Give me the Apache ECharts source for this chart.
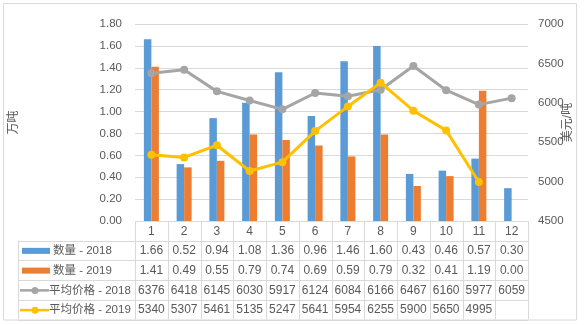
<!DOCTYPE html>
<html>
<head>
<meta charset="utf-8">
<script src="https://cdn.jsdelivr.net/npm/echarts@6/dist/echarts.min.js"></script>
<style>
  html, body { margin: 0; padding: 0; background: #fff; }
  #chart { width: 584px; height: 325px; }
</style>
</head>
<body>
<div id="chart"></div>
<script>
// Monthly import volume (万吨) and average price (美元/吨), 2018 vs 2019
var months = ['1', '2', '3', '4', '5', '6', '7', '8', '9', '10', '11', '12'];
var qty2018 = [1.66, 0.52, 0.94, 1.08, 1.36, 0.96, 1.46, 1.60, 0.43, 0.46, 0.57, 0.30];
var qty2019 = [1.41, 0.49, 0.55, 0.79, 0.74, 0.69, 0.59, 0.79, 0.32, 0.41, 1.19, 0.00];
var price2018 = [6376, 6418, 6145, 6030, 5917, 6124, 6084, 6166, 6467, 6160, 5977, 6059];
var price2019 = [5340, 5307, 5461, 5135, 5247, 5641, 5954, 6255, 5900, 5650, 4995, null];

var seriesNames = ['数量 - 2018', '数量 - 2019', '平均价格 - 2018', '平均价格 - 2019'];
var colors = ['#5B9BD5', '#ED7D31', '#A5A5A5', '#FFC000'];

var FONT = "'Liberation Sans','Noto Sans CJK SC',sans-serif";
var TXT = '#595959';
var GRID = '#D9D9D9';

var chart = echarts.init(document.getElementById('chart'), null, { renderer: 'canvas' });

var gridBox = { left: 135, right: 56, top: 24, bottom: 104, containLabel: false, outerBoundsMode: 'none' };

chart.setOption({
  animation: false,
  backgroundColor: '#fff',
  textStyle: { fontFamily: FONT },
  grid: gridBox,
  xAxis: {
    type: 'category',
    data: months,
    axisLine: { show: false },
    axisTick: { show: false },
    axisLabel: { show: false }
  },
  yAxis: [{
    type: 'value',
    min: 0, max: 1.8, interval: 0.2,
    name: '万吨',
    nameLocation: 'middle',
    nameGap: 115,
    nameRotate: 90,
    nameMoveOverlap: false,
    nameTextStyle: { color: TXT, fontSize: 12, fontFamily: FONT },
    axisLine: { show: false },
    axisTick: { show: false },
    axisLabel: { color: TXT, fontSize: 11.5, margin: 13, formatter: function (v) { return v.toFixed(2); } },
    splitLine: { lineStyle: { color: GRID, width: 1 } }
  }, {
    type: 'value',
    min: 4500, max: 7000, interval: 500,
    position: 'right',
    name: '美元/吨',
    nameLocation: 'middle',
    nameGap: 34,
    nameRotate: 90,
    nameMoveOverlap: false,
    nameTextStyle: { color: TXT, fontSize: 12, fontFamily: FONT },
    axisLine: { show: false },
    axisTick: { show: false },
    axisLabel: { color: TXT, fontSize: 11.5, margin: 10, formatter: function (v) { return String(v); } },
    splitLine: { show: false }
  }],
  series: [{
    name: seriesNames[0], type: 'bar', data: qty2018,
    barWidth: 7.5, barGap: '0%',
    itemStyle: { color: colors[0] }
  }, {
    name: seriesNames[1], type: 'bar', data: qty2019,
    barWidth: 7.5, barGap: '0%',
    itemStyle: { color: colors[1] }
  }, {
    name: seriesNames[2], type: 'line', yAxisIndex: 1, data: price2018,
    symbol: 'circle', symbolSize: 8,
    lineStyle: { color: colors[2], width: 3 },
    itemStyle: { color: colors[2] }
  }, {
    name: seriesNames[3], type: 'line', yAxisIndex: 1, data: price2019,
    symbol: 'circle', symbolSize: 8,
    lineStyle: { color: colors[3], width: 3 },
    itemStyle: { color: colors[3] }
  }]
});

// Data table under the plot, aligned to the category axis
(function drawTable() {
  var x0 = chart.convertToPixel({ xAxisIndex: 0 }, 0);
  var x1 = chart.convertToPixel({ xAxisIndex: 0 }, 1);
  var cw = x1 - x0;
  var left = x0 - cw / 2;
  var right = left + cw * months.length;
  var legendLeft = 18;
  var headTop = chart.getHeight() - gridBox.bottom;
  var headH = 19.5;
  var rowH = 19.75;
  var rowsTop = headTop + headH;
  var rowsBottom = rowsTop + rowH * 4;
  var lineStyle = { stroke: GRID, lineWidth: 1 };
  var els = [];

  function hline(y, xa, xb) {
    els.push({ type: 'line', silent: true, shape: { x1: xa, y1: y, x2: xb, y2: y }, style: lineStyle });
  }
  function vline(x, ya, yb) {
    els.push({ type: 'line', silent: true, shape: { x1: x, y1: ya, x2: x, y2: yb }, style: lineStyle });
  }
  function text(str, x, y, align, size) {
    els.push({ type: 'text', silent: true, x: x, y: y,
      style: { text: str, fill: TXT, fontSize: size || 12, fontFamily: FONT, align: align, verticalAlign: 'middle' } });
  }

  // outer chart frame
  els.push({ type: 'rect', silent: true, shape: { x: 3.5, y: 3.5, width: 573, height: 316.5 },
    style: { fill: 'none', stroke: '#D9D9D9', lineWidth: 1 } });

  hline(Math.round(headTop) + 0.5, left, right);
  for (var r = 0; r <= 4; r++) {
    hline(Math.round(rowsTop + r * rowH) + 0.5, legendLeft, right);
  }
  vline(legendLeft + 0.5, rowsTop, rowsBottom);
  for (var c = 0; c <= months.length; c++) {
    vline(Math.round(left + c * cw) + 0.5, headTop, rowsBottom);
  }

  // header: month numbers
  for (var i = 0; i < months.length; i++) {
    text(months[i], chart.convertToPixel({ xAxisIndex: 0 }, i), headTop + headH / 2 + 1, 'center');
  }

  var rows = [
    qty2018.map(function (v) { return v.toFixed(2); }),
    qty2019.map(function (v) { return v.toFixed(2); }),
    price2018.map(function (v) { return v == null ? '' : String(v); }),
    price2019.map(function (v) { return v == null ? '' : String(v); })
  ];
  for (var k = 0; k < 4; k++) {
    var cy = rowsTop + k * rowH + rowH / 2 + 0.5;
    // legend key
    if (k < 2) {
      els.push({ type: 'rect', silent: true, shape: { x: 22, y: cy - 3, width: 28, height: 6 },
        style: { fill: colors[k] } });
      text(seriesNames[k], 53, cy, 'left', 11.5);
    } else {
      els.push({ type: 'line', silent: true, shape: { x1: 20, y1: cy, x2: 49, y2: cy },
        style: { stroke: colors[k], lineWidth: 2.5 } });
      els.push({ type: 'circle', silent: true, shape: { cx: 35, cy: cy, r: 3.5 },
        style: { fill: colors[k] } });
      text(seriesNames[k], 49, cy, 'left', 11.5);
    }
    for (var j = 0; j < months.length; j++) {
      text(rows[k][j], chart.convertToPixel({ xAxisIndex: 0 }, j), cy, 'center');
    }
  }

  chart.setOption({ graphic: { elements: els } });
})();
</script>
</body>
</html>
